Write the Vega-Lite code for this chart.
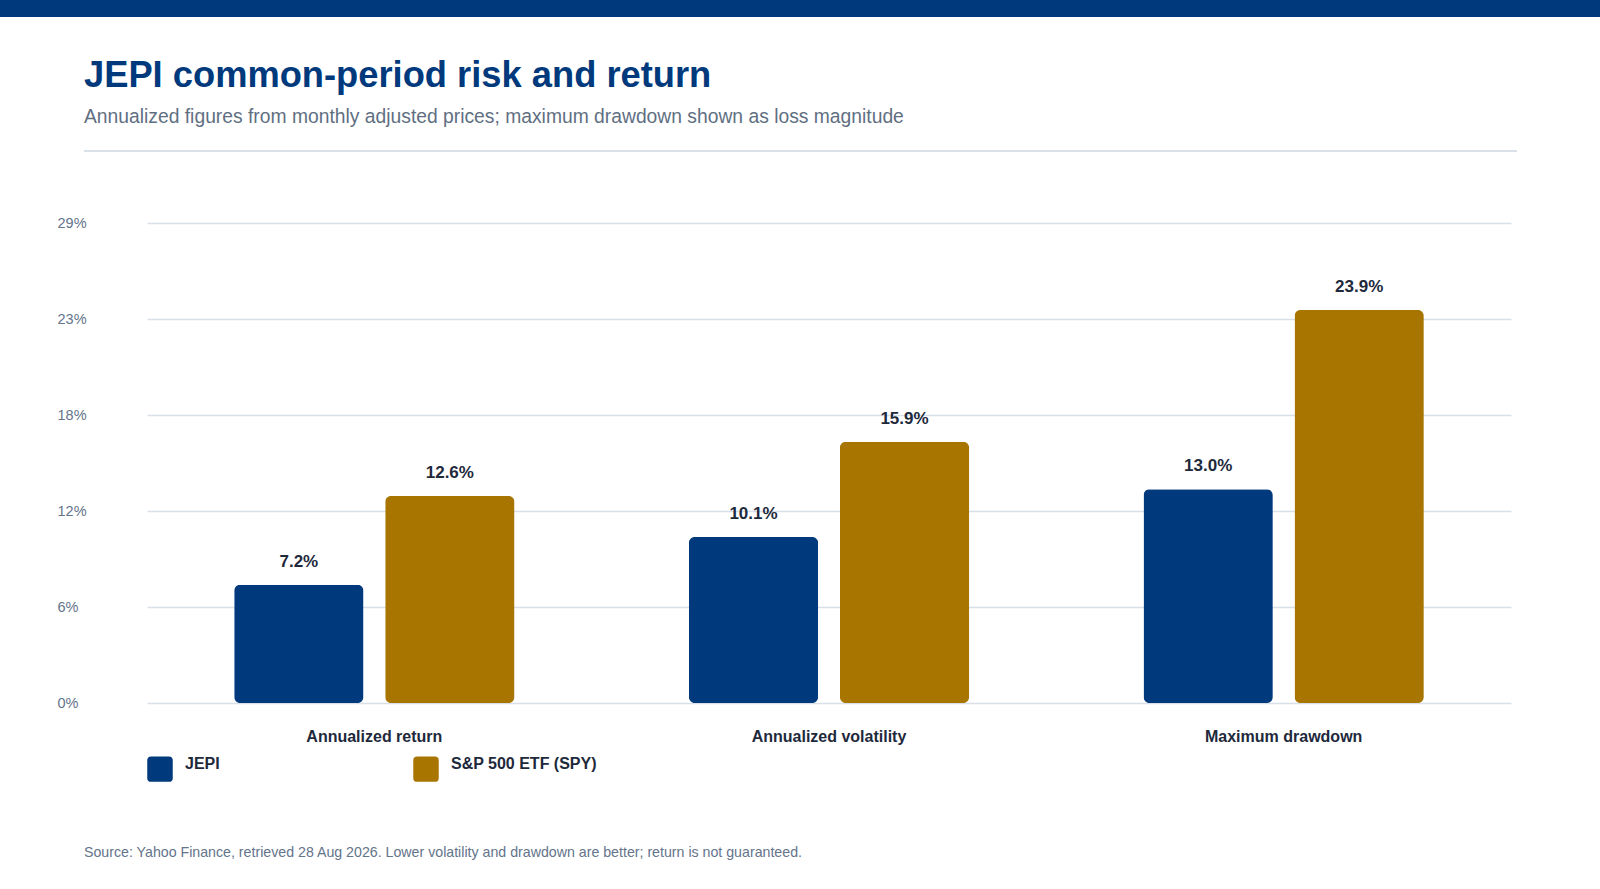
{
  "$schema": "https://vega.github.io/schema/vega-lite/v6.json",
  "background": "#ffffff",
  "padding": {"left": 0, "top": 0, "right": 0, "bottom": 30},
  "spacing": 41,
  "resolve": {"scale": {"color": "independent"}, "legend": {"color": "independent"}},
  "vconcat": [
    {
      "width": 1600,
      "height": 17,
      "data": {"values": [{}]},
      "mark": {"type": "rect", "color": "#003A7D"},
      "encoding": {}
    },
    {
      "spacing": 63,
      "resolve": {"scale": {"color": "independent"}, "legend": {"color": "independent"}},
      "vconcat": [
        {
          "spacing": 0,
          "hconcat": [
            {
              "width": 84,
              "height": 2,
              "data": {"values": []},
              "mark": "rect",
              "encoding": {}
            },
            {
              "width": 1433,
              "height": 2,
              "title": {
                "text": "JEPI common-period risk and return",
                "subtitle": "Annualized figures from monthly adjusted prices; maximum drawdown shown as loss magnitude",
                "anchor": "start",
                "frame": "group",
                "fontSize": 36.3,
                "fontWeight": "bold",
                "color": "#003A7D",
                "subtitleFontSize": 19.3,
                "subtitleColor": "#5F6F82",
                "subtitlePadding": 13,
                "offset": 23
              },
              "data": {"values": [{}]},
              "mark": {"type": "rect", "color": "#D9E0E8"},
              "encoding": {}
            }
          ]
        },
        {
          "spacing": 0,
          "resolve": {"scale": {"color": "independent"}, "legend": {"color": "independent"}},
          "hconcat": [
            {
              "width": 10,
              "height": 1,
              "data": {"values": []},
              "mark": "rect",
              "encoding": {}
            },
            {
              "width": 1364,
              "height": 480,
              "data": {
                "values": [
                  {"metric": "Annualized return", "fund": "JEPI", "value": 0.072},
                  {"metric": "Annualized return", "fund": "S&P 500 ETF (SPY)", "value": 0.126},
                  {"metric": "Annualized volatility", "fund": "JEPI", "value": 0.101},
                  {"metric": "Annualized volatility", "fund": "S&P 500 ETF (SPY)", "value": 0.159},
                  {"metric": "Maximum drawdown", "fund": "JEPI", "value": 0.130},
                  {"metric": "Maximum drawdown", "fund": "S&P 500 ETF (SPY)", "value": 0.239}
                ]
              },
              "title": {
                "text": "Source: Yahoo Finance, retrieved 28 Aug 2026. Lower volatility and drawdown are better; return is not guaranteed.",
                "orient": "bottom",
                "anchor": "start",
                "frame": "group",
                "dx": -63,
                "offset": 64,
                "fontSize": 14.2,
                "fontWeight": "normal",
                "color": "#64748B"
              },
              "encoding": {
                "x": {
                  "field": "metric",
                  "type": "nominal",
                  "sort": ["Annualized return", "Annualized volatility", "Maximum drawdown"],
                  "scale": {"paddingInner": 0.3835, "paddingOuter": 0.19175},
                  "axis": {
                    "title": null,
                    "labelAngle": 0,
                    "ticks": false,
                    "domain": false,
                    "grid": false,
                    "labelFontSize": 16,
                    "labelFontWeight": "bold",
                    "labelColor": "#1E293B",
                    "labelPadding": 25
                  }
                },
                "xOffset": {
                  "field": "fund",
                  "type": "nominal",
                  "sort": ["JEPI", "S&P 500 ETF (SPY)"],
                  "scale": {"paddingInner": 0.1437, "paddingOuter": 0}
                },
                "y": {
                  "field": "value",
                  "type": "quantitative",
                  "scale": {"domain": [0, 0.292], "nice": false},
                  "axis": {
                    "title": null,
                    "values": [0, 0.0584, 0.1168, 0.1752, 0.2336, 0.292],
                    "format": ".0%",
                    "ticks": false,
                    "domain": false,
                    "gridColor": "#D8DFE8",
                    "gridWidth": 1.5,
                    "labelAlign": "left",
                    "labelPadding": 90,
                    "labelFontSize": 14.5,
                    "labelColor": "#64748B",
                    "minExtent": 137
                  }
                }
              },
              "layer": [
                {
                  "mark": {"type": "bar", "cornerRadius": 6},
                  "encoding": {
                    "color": {
                      "field": "fund",
                      "type": "nominal",
                      "scale": {"domain": ["JEPI", "S&P 500 ETF (SPY)"], "range": ["#003A7D", "#A87600"]},
                      "legend": {
                        "orient": "bottom",
                        "direction": "horizontal",
                        "title": null,
                        "symbolType": "M-0.69,-1L0.69,-1Q1,-1,1,-0.69L1,0.69Q1,1,0.69,1L-0.69,1Q-1,1,-1,0.69L-1,-0.69Q-1,-1,-0.69,-1Z",
                        "symbolSize": 650,
                        "symbolStrokeWidth": 0,
                        "symbolOpacity": 1,
                        "labelFontSize": 16,
                        "labelFontWeight": "bold",
                        "labelColor": "#1E293B",
                        "labelBaseline": "alphabetic",
                        "labelOffset": 12,
                        "columnPadding": 193,
                        "offset": 12,
                        "padding": 0
                      }
                    }
                  }
                },
                {
                  "mark": {"type": "text", "baseline": "alphabetic", "dy": -18, "fontSize": 17, "fontWeight": "bold", "color": "#1E293B"},
                  "encoding": {"text": {"field": "value", "format": ".1%"}}
                }
              ]
            }
          ]
        }
      ]
    }
  ],
  "config": {
    "font": "Liberation Sans",
    "view": {"stroke": null}
  }
}
